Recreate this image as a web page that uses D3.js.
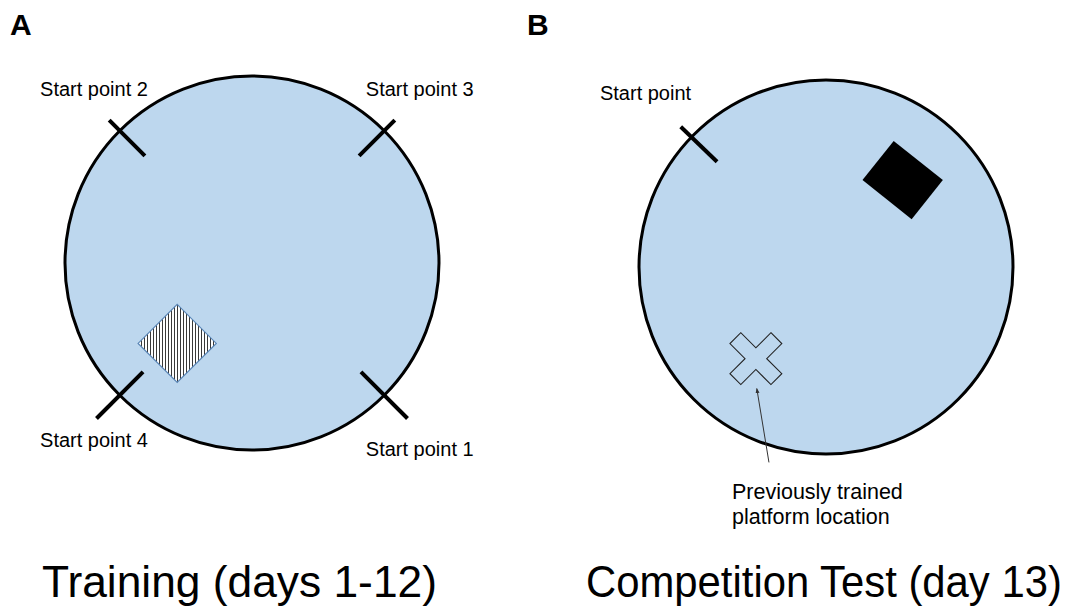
<!DOCTYPE html>
<html>
<head>
<meta charset="utf-8">
<script src="https://cdn.jsdelivr.net/npm/d3@7"></script>
<style>
  body { margin: 0; background: #fff; }
  text { font-family: "Liberation Sans", Arial, sans-serif; fill: #000; }
</style>
</head>
<body>
<script>
(function(){

    // panel letters and captions
    var panelLetters = ["A", "B"];
    var panelTitles = ["Training (days 1-12)", "Competition Test (day 13)"];

    // start points: label and angle on the pool rim (degrees, clockwise from east)
    var startLabelsA = ["Start point 1", "Start point 4", "Start point 2", "Start point 3"];
    var startAnglesA = [45, 135, 225, 315];
    var startLabelsB = ["Start point"];
    var startAnglesB = [224];

    // platform centres in pool units (-1..1, y down)
    var trainedPlatform = [-0.40, 0.43];
    var newPlatform = [0.41, -0.465];
    var oldPlatformMark = [-0.375, 0.49];
    var noteLines = ["Previously trained", "platform location"];

    var width = 1070, height = 613;
    var poolR = 187;
    var poolCentres = [[252, 263], [826, 267]];

    var svg = d3.select("body").append("svg")
        .attr("width", width)
        .attr("height", height);

    var defs = svg.append("defs");

    // vertical hatching for the training platform
    var hatch = defs.append("pattern")
        .attr("id", "hatch")
        .attr("width", 3)
        .attr("height", 3)
        .attr("patternUnits", "userSpaceOnUse");
    hatch.append("rect").attr("width", 3).attr("height", 3).attr("fill", "#fff");
    hatch.append("line")
        .attr("x1", 0.5).attr("x2", 0.5).attr("y1", 0).attr("y2", 3)
        .attr("stroke", "#222").attr("stroke-width", 0.9);

    defs.append("marker")
        .attr("id", "arrowHead")
        .attr("viewBox", "0 0 10 10")
        .attr("refX", 9).attr("refY", 5)
        .attr("markerWidth", 5).attr("markerHeight", 5)
        .attr("orient", "auto")
        .append("path")
        .attr("d", "M0,1 L10,5 L0,9 Z")
        .attr("fill", "#333");

    function makeScales(c){
        return {
            x: d3.scaleLinear().domain([-1, 1]).range([c[0] - poolR, c[0] + poolR]),
            y: d3.scaleLinear().domain([-1, 1]).range([c[1] - poolR, c[1] + poolR])
        };
    }

    function drawPool(g, s){
        g.append("ellipse")
            .attr("cx", s.x(0))
            .attr("cy", s.y(0))
            .attr("rx", s.x(1) - s.x(0))
            .attr("ry", s.y(1) - s.y(0))
            .attr("fill", "#bdd7ee")
            .attr("stroke", "#000")
            .attr("stroke-width", 3);
    }

    // start point ticks crossing the rim; top ticks sit a little further inside
    function drawStarts(g, s, angles, labels, labelPos){
        angles.forEach(function(a, i){
            var rad = a * Math.PI / 180,
                ux = Math.cos(rad), uy = Math.sin(rad),
                top = uy < 0,
                outer = top ? 1.08 : 1.176,
                inner = top ? 0.81 : 0.824;
            g.append("line")
                .attr("x1", s.x(ux * inner)).attr("y1", s.y(uy * inner))
                .attr("x2", s.x(ux * outer)).attr("y2", s.y(uy * outer))
                .attr("stroke", "#000")
                .attr("stroke-width", 4);
            g.append("text")
                .attr("x", s.x(labelPos[i][0]))
                .attr("y", s.y(labelPos[i][1]))
                .attr("text-anchor", "middle")
                .style("font-size", "20px")
                .text(labels[i]);
        });
    }

    function polygon(g, s, centre, pts){
        return g.append("polygon")
            .attr("points", pts.map(function(p){
                return s.x(centre[0] + p[0]) + "," + s.y(centre[1] + p[1]);
            }).join(" "));
    }

    function rotate(pts, deg){
        var r = deg * Math.PI / 180, c = Math.cos(r), n = Math.sin(r);
        return pts.map(function(p){ return [p[0] * c - p[1] * n, p[0] * n + p[1] * c]; });
    }

    // ---- panel A ----
    var sA = makeScales(poolCentres[0]);
    var gA = svg.append("g");
    drawPool(gA, sA);
    var d = 0.209;
    polygon(gA, sA, trainedPlatform, [[0, -d], [d, 0], [0, d], [-d, 0]])
        .attr("fill", "url(#hatch)")
        .attr("stroke", "#5b87b8")
        .attr("stroke-width", 1.2);
    drawStarts(gA, sA, startAnglesA, startLabelsA,
        [[0.897, 1.03], [-0.845, 0.983], [-0.845, -0.893], [0.897, -0.893]]);

    // ---- panel B ----
    var sB = makeScales(poolCentres[1]);
    var gB = svg.append("g");
    drawPool(gB, sB);
    drawStarts(gB, sB, startAnglesB, startLabelsB, [[-0.965, -0.893]]);

    var hw = 0.168, hh = 0.134;
    polygon(gB, sB, newPlatform, rotate([[-hw, -hh], [hw, -hh], [hw, hh], [-hw, hh]], 38.5))
        .attr("fill", "#000");

    // cross marking the old platform spot
    var L = 0.155, w = 0.041;
    var plus = [[-w, -L], [w, -L], [w, -w], [L, -w], [L, w], [w, w],
                [w, L], [-w, L], [-w, w], [-L, w], [-L, -w], [-w, -w]];
    polygon(gB, sB, oldPlatformMark, rotate(plus, 45))
        .attr("fill", "#bdd7ee")
        .attr("stroke", "#222")
        .attr("stroke-width", 1.1);

    gB.append("line")
        .attr("x1", sB.x(oldPlatformMark[0] + 0.07))
        .attr("y1", sB.y(1.045))
        .attr("x2", sB.x(oldPlatformMark[0] + 0.005))
        .attr("y2", sB.y(oldPlatformMark[1] + 0.16))
        .attr("stroke", "#333")
        .attr("stroke-width", 1)
        .attr("marker-end", "url(#arrowHead)");

    gB.selectAll(".note")
        .data(noteLines)
        .enter()
        .append("text")
        .attr("class", "note")
        .attr("x", sB.x(-0.503))
        .attr("y", function(t, i){ return sB.y(1.24) + i * 25; })
        .style("font-size", "21.5px")
        .text(function(t){ return t; });

    // panel letters
    svg.selectAll(".letter")
        .data(panelLetters)
        .enter()
        .append("text")
        .attr("class", "letter")
        .attr("x", function(t, i){ return i === 0 ? 10 : 527; })
        .attr("y", 35)
        .style("font-size", "30px")
        .style("font-weight", "bold")
        .text(function(t){ return t; });

    // captions, squeezed horizontally to the source figure's width
    var titleX = [42, 586], titleLen = [395, 476];
    svg.selectAll(".title")
        .data(panelTitles)
        .enter()
        .append("text")
        .attr("class", "title")
        .style("font-size", "44px")
        .text(function(t){ return t; })
        .attr("transform", function(t, i){
            var natural = this.getComputedTextLength();
            return "translate(" + titleX[i] + ",597) scale(" + (titleLen[i] / natural) + ",1)";
        });

})();
</script>
</body>
</html>
